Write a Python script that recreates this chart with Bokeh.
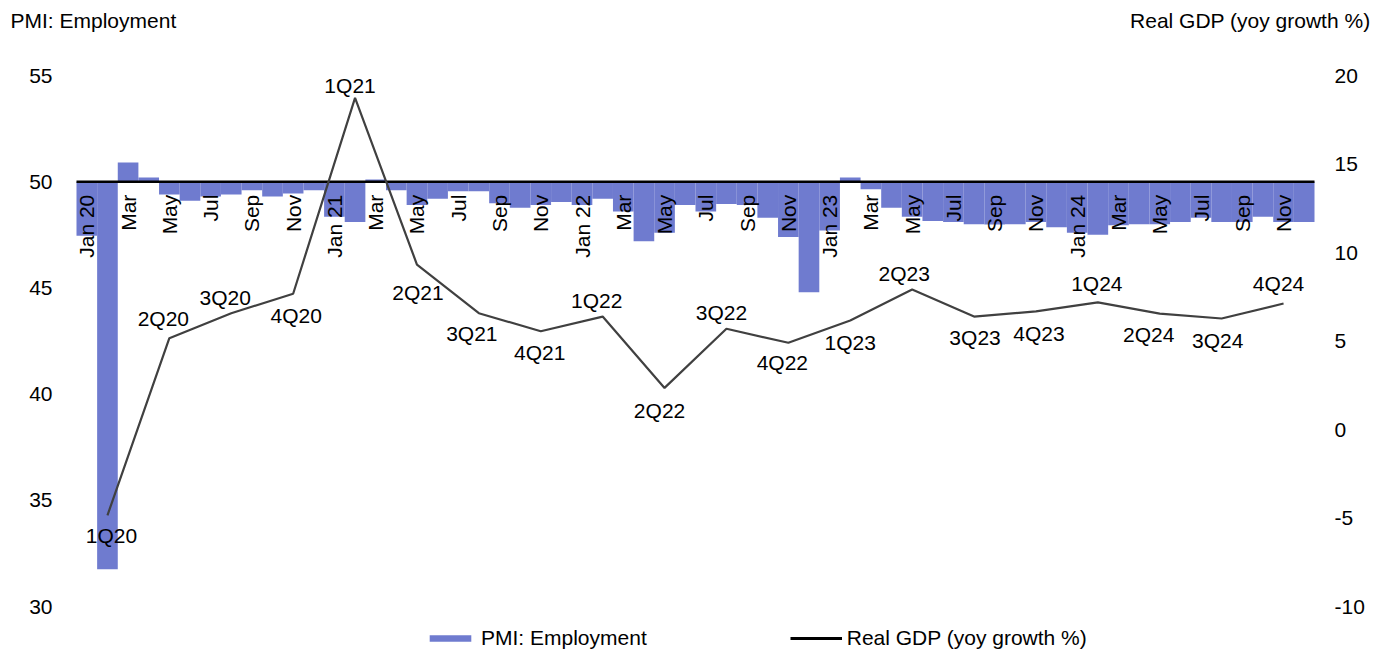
import math
from bokeh.plotting import figure
from bokeh.models import Range1d, Legend, LegendItem, ColumnDataSource
from bokeh.core.properties import value
from bokeh.embed import file_html
from bokeh.resources import INLINE

# ---- data ----
pmi_employment = [
    47.45, 31.75, 50.9, 50.2, 49.4, 49.1, 49.3, 49.4, 49.6, 49.3, 49.45, 49.6,   # 2020
    48.35, 48.1, 50.1, 49.6, 48.9, 49.2, 49.55, 49.55, 48.98, 48.77, 48.9, 49.05,  # 2021
    48.9, 49.2, 48.6, 47.2, 47.6, 48.9, 48.6, 48.95, 48.9, 48.3, 47.4, 44.8,   # 2022
    47.7, 50.2, 49.65, 48.77, 48.35, 48.15, 48.1, 48.0, 47.98, 48.0, 48.1, 47.85,  # 2023
    47.6, 47.5, 47.95, 48.0, 48.0, 48.1, 48.3, 48.1, 48.1, 48.35, 48.1, 48.1,   # 2024
]
month_tick_labels = [
    "Jan 20", "Mar", "May", "Jul", "Sep", "Nov",
    "Jan 21", "Mar", "May", "Jul", "Sep", "Nov",
    "Jan 22", "Mar", "May", "Jul", "Sep", "Nov",
    "Jan 23", "Mar", "May", "Jul", "Sep", "Nov",
    "Jan 24", "Mar", "May", "Jul", "Sep", "Nov",
]
gdp_quarters = [
    "1Q20", "2Q20", "3Q20", "4Q20", "1Q21", "2Q21", "3Q21", "4Q21",
    "1Q22", "2Q22", "3Q22", "4Q22", "1Q23", "2Q23", "3Q23", "4Q23",
    "1Q24", "2Q24", "3Q24", "4Q24",
]
real_gdp_yoy = [
    -4.85, 5.16, 6.57, 7.67, 18.74, 9.32, 6.57, 5.55,
    6.38, 2.35, 5.69, 4.9, 6.16, 7.91, 6.38, 6.67,
    7.18, 6.55, 6.27, 7.12,
]
left_ticks = [30, 35, 40, 45, 50, 55]
right_ticks = [-10, -5, 0, 5, 10, 15, 20]
left_title = "PMI: Employment"
right_title = "Real GDP (yoy growth %)"

# label placement (screen px), style only
label_dx = [4, -6, -6, 3, -5, 1, -7, -1, -6, -5, -5, -6, 0, -8, 1, 3, -1, -11, -4, -5]
label_dy = [20, -20, -16, 22, -12, 28, 20, 21, -16, 23, -16, 20, 22, -16, 21, 22, -19, 21, 22, -20]

FONT = "Liberation Sans"
FS = "21px"
BAR_COLOR = "#6F7BCF"

# ---- layout (pixels) ----
W, H = 1390, 657
PLOT_L, PLOT_R, PLOT_T, PLOT_B = 76, 1314, 75, 606
n_months = len(pmi_employment)
px_x = (PLOT_R - PLOT_L) / n_months
lmin, lmax = left_ticks[0], left_ticks[-1]
rmin, rmax = right_ticks[0], right_ticks[-1]
px_l = (PLOT_B - PLOT_T) / (lmax - lmin)
px_r = (PLOT_B - PLOT_T) / (rmax - rmin)

p = figure(width=W, height=H, output_backend="svg", toolbar_location=None,
           x_range=Range1d(-PLOT_L / px_x, n_months + (W - PLOT_R) / px_x),
           y_range=Range1d(lmin - (H - PLOT_B) / px_l, lmax + PLOT_T / px_l),
           min_border=0, x_axis_location=None, y_axis_location=None)
p.extra_y_ranges = {"gdp": Range1d(rmin - (H - PLOT_B) / px_r, rmax + PLOT_T / px_r)}
p.outline_line_color = None
p.xgrid.visible = False
p.ygrid.visible = False
p.background_fill_color = "white"
p.border_fill_color = "white"

# bars hanging from 50
bar_src = ColumnDataSource(dict(x=[i + 0.5 for i in range(n_months)], top=pmi_employment))
bars = p.vbar(x="x", top="top", bottom=50, width=1.0, source=bar_src,
              fill_color=BAR_COLOR, line_color=None)

# 50 reference line across the plot area
p.line(x=[0, n_months], y=[50, 50], line_color="black", line_width=2.5)

# month labels (vertical, below the 50 line)
p.text(x=[i + 0.5 for i in range(0, n_months, 2)],
       y=[50] * len(month_tick_labels), text=month_tick_labels, y_offset=13,
       angle=math.pi / 2, text_align="right", text_baseline="middle",
       text_font=value(FONT), text_font_size=FS, text_color="black")

# GDP line
gdp_src = ColumnDataSource(dict(x=[3 * q + 1.5 for q in range(len(real_gdp_yoy))],
                                y=real_gdp_yoy, t=gdp_quarters, dx=label_dx, dy=label_dy))
p.line(x="x", y="y", source=gdp_src, y_range_name="gdp", line_color="#404040", line_width=2.2)
p.text(x="x", y="y", text="t", x_offset="dx", y_offset="dy", source=gdp_src, y_range_name="gdp",
       text_align="center", text_baseline="middle",
       text_font=value(FONT), text_font_size=FS, text_color="black")
legend_line = p.line(x=[float("nan")], y=[float("nan")], y_range_name="gdp",
                     line_color="black", line_width=3)

# axis tick labels
p.text(x=[0] * len(left_ticks), y=left_ticks, text=[str(t) for t in left_ticks], x_offset=-24,
       text_align="right", text_baseline="middle",
       text_font=value(FONT), text_font_size=FS, text_color="black")
p.text(x=[n_months] * len(right_ticks), y=right_ticks, text=[str(t) for t in right_ticks],
       x_offset=20, y_range_name="gdp", text_align="left", text_baseline="middle",
       text_font=value(FONT), text_font_size=FS, text_color="black")

# axis titles
p.text(x=[0], y=[lmax], text=[left_title], x_offset=10 - PLOT_L, y_offset=20 - PLOT_T,
       text_align="left", text_baseline="middle",
       text_font=value(FONT), text_font_size=FS, text_color="black")
p.text(x=[n_months], y=[rmax], text=[right_title], x_offset=1370 - PLOT_R, y_offset=20 - PLOT_T,
       y_range_name="gdp", text_align="right", text_baseline="middle",
       text_font=value(FONT), text_font_size=FS, text_color="black")

legend = Legend(items=[LegendItem(label=left_title, renderers=[bars]),
                       LegendItem(label=right_title, renderers=[legend_line])],
                orientation="horizontal", location=(424, 7), spacing=143,
                glyph_width=52, glyph_height=8, label_standoff=5, padding=0, margin=0,
                border_line_color=None, background_fill_alpha=0,
                label_text_font=FONT, label_text_font_size=FS, label_text_color="black")
p.add_layout(legend, "center")

open("out.html", "w").write(file_html(p, INLINE))
